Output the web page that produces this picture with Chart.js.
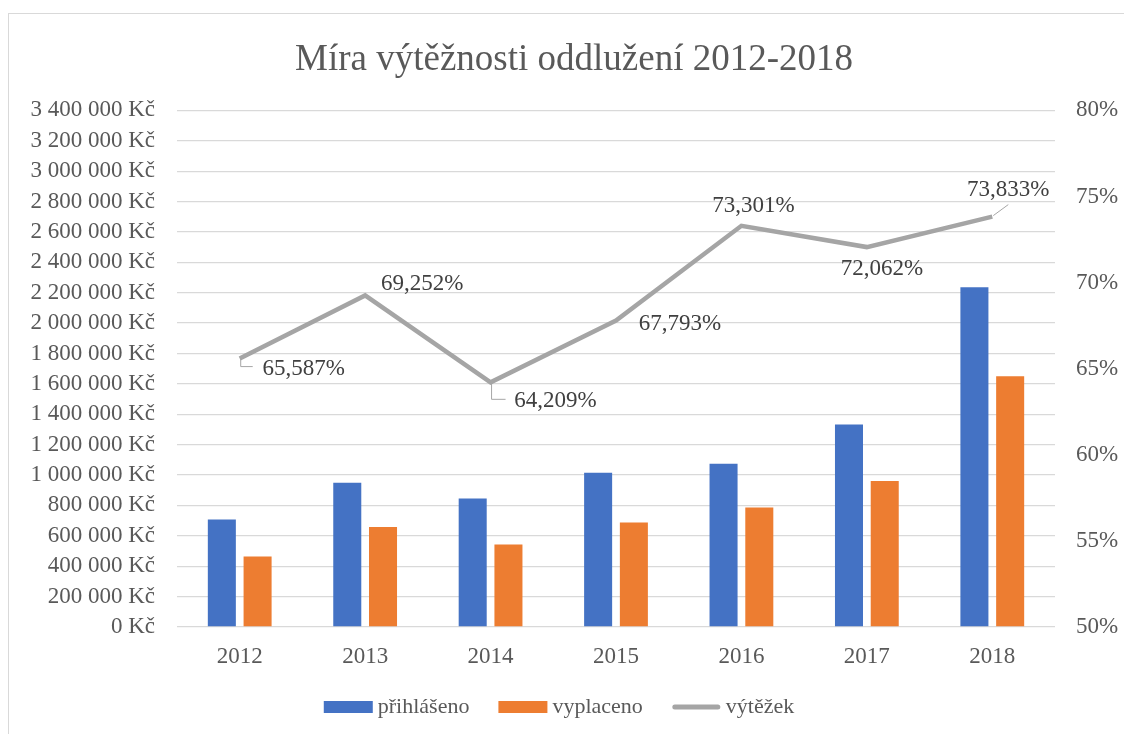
<!DOCTYPE html>
<html>
<head>
<meta charset="utf-8">
<script src="https://cdn.jsdelivr.net/npm/chart.js@4"></script>
<style>
  html, body { margin: 0; padding: 0; background: #fff; overflow: hidden; }
  #box {
    position: absolute; left: 8px; top: 13px;
    width: 1130px; height: 740px;
    border: 1px solid #d9d9d9;
  }
  canvas { display: block; }
</style>
</head>
<body>
<div id="box"><canvas id="chart" width="1130" height="720"></canvas></div>
<script>
const years = ['2012', '2013', '2014', '2015', '2016', '2017', '2018'];
const prihlaseno = [708000, 950000, 846000, 1015000, 1074000, 1333000, 2236000];
const vyplaceno = [464000, 658000, 543000, 688000, 787000, 961000, 1651000];
const vytezek = [65.587, 69.252, 64.209, 67.793, 73.301, 72.062, 73.833];
const leftTicks = [0, 3400000, 200000];   // min, max, step
const rightTicks = [50, 80, 5];

const FONT = 'Liberation Serif';
const TXT = '#595959';

// where each % label sits relative to its point, plus leader lines
const labelOffsets = [[64, 10], [57, -12], [65, 19], [64, 3], [12, -20], [15, 22], [16, -27]];
const leaders = {
  0: [[1, 0], [1, 8], [13, 8]],
  2: [[1, 1], [1, 17], [15, 17]],
  6: [[1, -1], [16, -12]]
};

function kc(v) {
  return String(v).replace(/\B(?=(\d{3})+(?!\d))/g, ' ') + ' Kč';
}
function pct(v) {
  return v.toFixed(3).replace('.', ',') + '%';
}

const lineLabels = {
  id: 'lineLabels',
  afterDatasetsDraw(chart) {
    const meta = chart.getDatasetMeta(2);
    const ctx = chart.ctx;
    ctx.save();
    meta.data.forEach((pt, i) => {
      const l = leaders[i];
      if (l) {
        ctx.beginPath();
        ctx.strokeStyle = '#a6a6a6';
        ctx.lineWidth = 1;
        l.forEach((p, j) => {
          if (j == 0) ctx.moveTo(pt.x + p[0], pt.y + p[1]);
          else ctx.lineTo(pt.x + p[0], pt.y + p[1]);
        });
        ctx.stroke();
      }
      ctx.font = '23px "' + FONT + '"';
      ctx.fillStyle = '#404040';
      ctx.textAlign = 'center';
      ctx.textBaseline = 'middle';
      ctx.fillText(pct(vytezek[i]), pt.x + labelOffsets[i][0], pt.y + labelOffsets[i][1]);
    });
    ctx.restore();
  }
};

// excel-like legend: 49px swatch, small gap, text
const excelLegend = {
  id: 'excelLegend',
  afterDraw(chart) {
    const ctx = chart.ctx;
    const sets = chart.data.datasets;
    ctx.save();
    ctx.font = '22px "' + FONT + '"';
    const sw = 49, gap = 5, space = 29;
    let total = 0;
    sets.forEach((ds, i) => {
      total += sw + gap + ctx.measureText(ds.label).width + (i < sets.length - 1 ? space : 0);
    });
    let x = chart.width / 2 - 15 - total / 2;
    const y = 693;
    sets.forEach((ds) => {
      if (ds.type == 'line') {
        ctx.strokeStyle = ds.borderColor;
        ctx.lineWidth = 5;
        ctx.lineCap = 'round';
        ctx.beginPath();
        ctx.moveTo(x + 3, y);
        ctx.lineTo(x + sw - 3, y);
        ctx.stroke();
      } else {
        ctx.fillStyle = ds.backgroundColor;
        ctx.fillRect(x, y - 6, sw, 12);
      }
      x += sw + gap;
      ctx.fillStyle = TXT;
      ctx.textAlign = 'left';
      ctx.textBaseline = 'middle';
      ctx.fillText(ds.label, x, y);
      x += ctx.measureText(ds.label).width + space;
    });
    ctx.restore();
  }
};

const ctx = document.getElementById('chart');
new Chart(ctx, {
  type: 'bar',
  data: {
    labels: years,
    datasets: [{
      label: 'přihlášeno',
      data: prihlaseno,
      backgroundColor: '#4472C4',
      yAxisID: 'y',
      order: 1,
      categoryPercentage: 0.57,
      barPercentage: 0.784
    }, {
      label: 'vyplaceno',
      data: vyplaceno,
      backgroundColor: '#ED7D31',
      yAxisID: 'y',
      order: 1,
      categoryPercentage: 0.57,
      barPercentage: 0.784
    }, {
      type: 'line',
      label: 'výtěžek',
      data: vytezek,
      borderColor: '#A5A5A5',
      backgroundColor: '#A5A5A5',
      borderWidth: 4.5,
      pointRadius: 0,
      tension: 0,
      yAxisID: 'y1',
      order: 0
    }]
  },
  options: {
    responsive: false,
    animation: false,
    layout: { padding: { bottom: 52 } },
    plugins: {
      title: {
        display: true,
        text: 'Míra výtěžnosti oddlužení 2012-2018',
        color: TXT,
        font: { family: FONT, size: 37, weight: 'normal', lineHeight: 1.2 },
        padding: { top: 24, bottom: 28 }
      },
      legend: { display: false },
      tooltip: { enabled: false }
    },
    scales: {
      x: {
        grid: { display: false },
        border: { display: false },
        ticks: { color: TXT, font: { family: FONT, size: 23 }, padding: 8 },
        afterFit(s) { s.height = 55; }
      },
      y: {
        position: 'left',
        min: leftTicks[0],
        max: leftTicks[1],
        ticks: {
          stepSize: leftTicks[2],
          autoSkip: false,
          color: TXT,
          font: { family: FONT, size: 23 },
          padding: 22,
          callback: v => kc(v)
        },
        grid: { color: '#d9d9d9', lineWidth: 1.3, drawTicks: false },
        border: { display: false },
        afterFit(s) { s.width = 168; }
      },
      y1: {
        position: 'right',
        min: rightTicks[0],
        max: rightTicks[1],
        ticks: {
          stepSize: rightTicks[2],
          autoSkip: false,
          color: TXT,
          font: { family: FONT, size: 23 },
          padding: 13,
          callback: v => v + '%'
        },
        grid: { display: false },
        border: { display: false },
        afterFit(s) { s.width = 84; }
      }
    }
  },
  plugins: [lineLabels, excelLegend]
});
</script>
</body>
</html>
